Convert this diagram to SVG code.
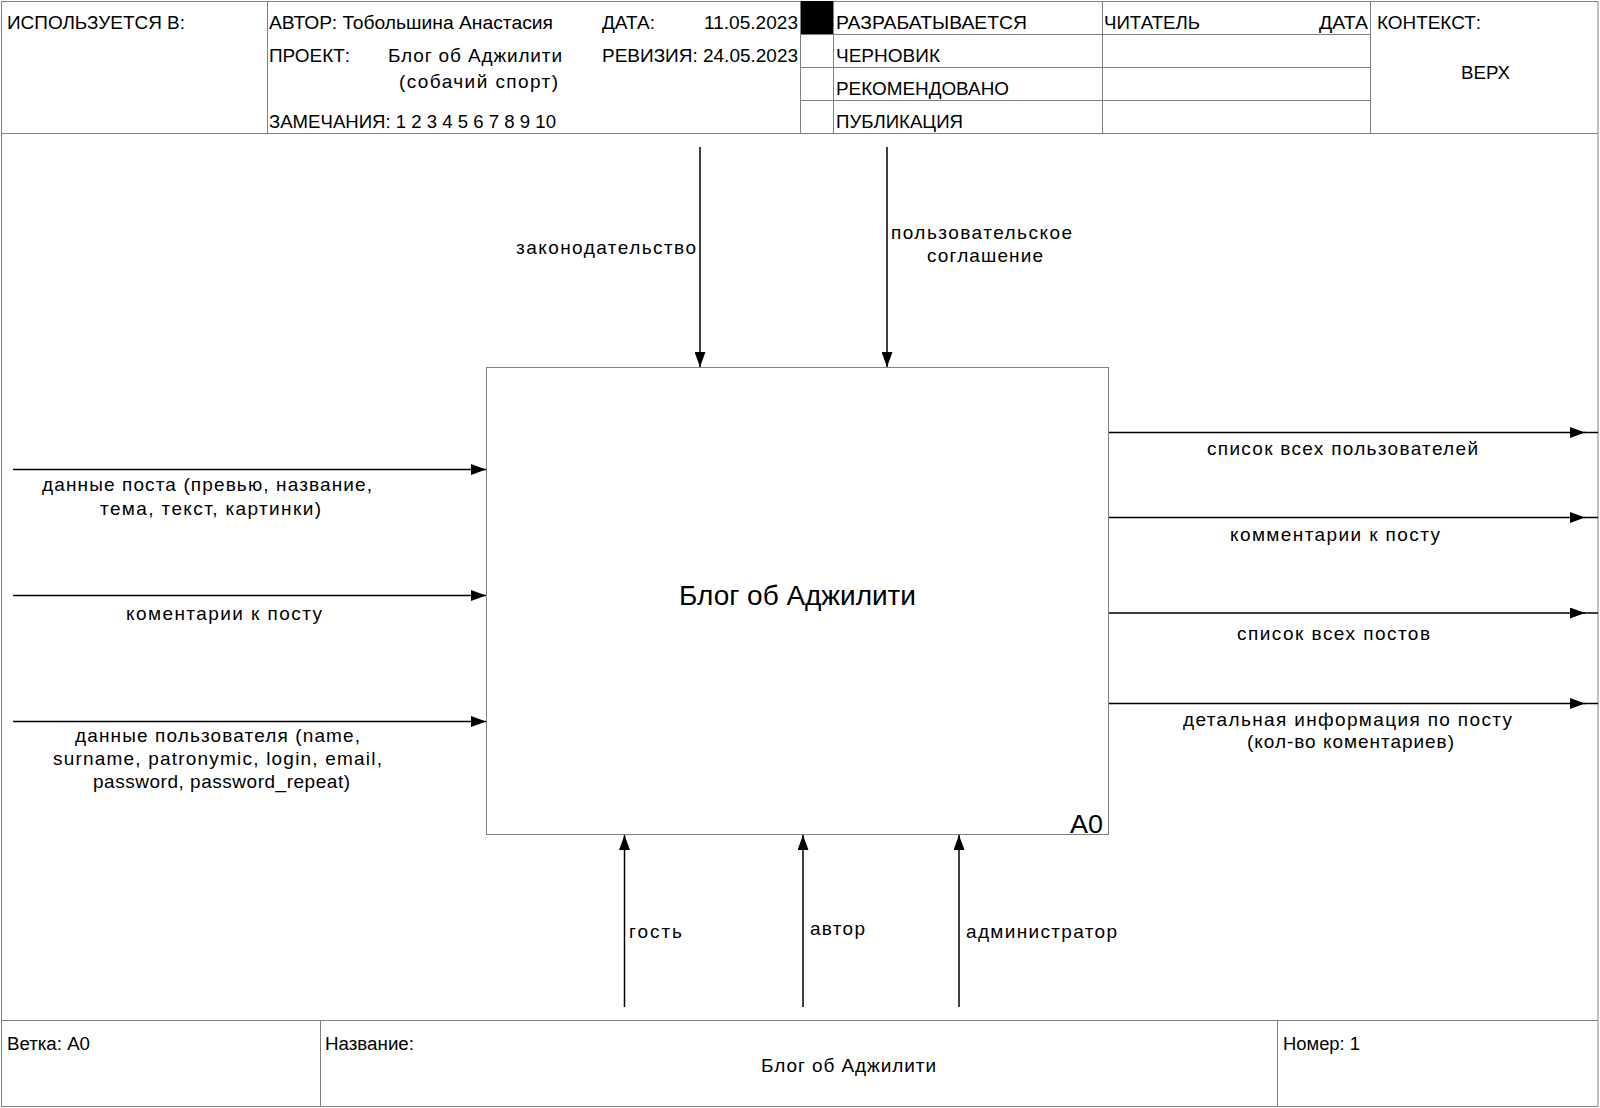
<svg xmlns="http://www.w3.org/2000/svg" width="1600" height="1108" viewBox="0 0 1600 1108">
<style>
.frame{fill:none;stroke:#808080;stroke-width:1}
.hdr{font-family:"Liberation Sans",Arial,sans-serif;font-size:18px;fill:#000}
.lbl{font-family:"Liberation Sans",Arial,sans-serif;font-size:19px;fill:#000}
.arr{stroke:#000;stroke-width:1.5;fill:none}
.arrm{stroke:#000;stroke-width:1.5;fill:none;marker-end:url(#ah)}
</style>
<defs>
<marker id="ah" markerUnits="userSpaceOnUse" markerWidth="15" markerHeight="11" refX="15" refY="5.5" orient="auto">
<path d="M0,0 L15,5.5 L0,11 Z" fill="#000"/>
</marker>
</defs>
<rect x="0" y="0" width="1600" height="1108" fill="#fff"/>
<g id="frame">
<rect class="frame" x="1.5" y="1.5" width="1596.5" height="1105"/>
<line class="frame" x1="1" y1="133.5" x2="1598" y2="133.5"/>
<line class="frame" x1="267.5" y1="1" x2="267.5" y2="133.5"/>
<line class="frame" x1="800.5" y1="1" x2="800.5" y2="133.5"/>
<line class="frame" x1="833.5" y1="1" x2="833.5" y2="133.5"/>
<line class="frame" x1="1102.5" y1="1" x2="1102.5" y2="133.5"/>
<line class="frame" x1="1370.5" y1="1" x2="1370.5" y2="133.5"/>
<line class="frame" x1="800.5" y1="34.5" x2="1370.5" y2="34.5"/>
<line class="frame" x1="800.5" y1="67.5" x2="1370.5" y2="67.5"/>
<line class="frame" x1="800.5" y1="100.5" x2="1370.5" y2="100.5"/>
<rect x="801" y="1" width="32" height="33" fill="#000"/>
<line class="frame" x1="1" y1="1020.5" x2="1598" y2="1020.5"/>
<line class="frame" x1="320.5" y1="1020.5" x2="320.5" y2="1107"/>
<line class="frame" x1="1277.5" y1="1020.5" x2="1277.5" y2="1107"/>
</g>
<g id="header-text">
<text class="hdr" x="7" y="29" textLength="178" lengthAdjust="spacingAndGlyphs">ИСПОЛЬЗУЕТСЯ В:</text>
<text class="hdr" x="269" y="29" textLength="284" lengthAdjust="spacingAndGlyphs">АВТОР: Тобольшина Анастасия</text>
<text class="hdr" x="602" y="29" textLength="53" lengthAdjust="spacingAndGlyphs">ДАТА:</text>
<text class="hdr" x="704" y="29" textLength="94" lengthAdjust="spacingAndGlyphs">11.05.2023</text>
<text class="hdr" x="269" y="62" textLength="81" lengthAdjust="spacingAndGlyphs">ПРОЕКТ:</text>
<text class="lbl" x="388" y="62" textLength="174">Блог об Аджилити</text>
<text class="lbl" x="399" y="88" textLength="159">(собачий спорт)</text>
<text class="hdr" x="602" y="62" textLength="196" lengthAdjust="spacingAndGlyphs">РЕВИЗИЯ: 24.05.2023</text>
<text class="hdr" x="269" y="128" textLength="287" lengthAdjust="spacingAndGlyphs">ЗАМЕЧАНИЯ: 1 2 3 4 5 6 7 8 9 10</text>
<text class="hdr" x="836" y="29" textLength="191" lengthAdjust="spacingAndGlyphs">РАЗРАБАТЫВАЕТСЯ</text>
<text class="hdr" x="1104" y="29" textLength="96" lengthAdjust="spacingAndGlyphs">ЧИТАТЕЛЬ</text>
<text class="hdr" x="1319" y="29" textLength="49" lengthAdjust="spacingAndGlyphs">ДАТА</text>
<text class="hdr" x="1377" y="29" textLength="104" lengthAdjust="spacingAndGlyphs">КОНТЕКСТ:</text>
<text class="hdr" x="836" y="62" textLength="104" lengthAdjust="spacingAndGlyphs">ЧЕРНОВИК</text>
<text class="hdr" x="836" y="95" textLength="173" lengthAdjust="spacingAndGlyphs">РЕКОМЕНДОВАНО</text>
<text class="hdr" x="836" y="128" textLength="127" lengthAdjust="spacingAndGlyphs">ПУБЛИКАЦИЯ</text>
<text class="hdr" x="1461" y="79" textLength="49" lengthAdjust="spacingAndGlyphs">ВЕРХ</text>
</g>
<g id="A0">
<rect x="486.5" y="367.5" width="622" height="467" fill="#fff" stroke="#808080" stroke-width="1"/>
<text x="679" y="605" font-family="Liberation Sans, Arial, sans-serif" font-size="28" textLength="237">Блог об Аджилити</text>
<text x="1070" y="833" font-family="Liberation Sans, Arial, sans-serif" font-size="26" textLength="33" lengthAdjust="spacingAndGlyphs">A0</text>
</g>
<g id="connectors">
<line class="arrm" x1="700" y1="147" x2="700" y2="367"/>
<line class="arrm" x1="887" y1="147" x2="887" y2="367"/>
<line class="arrm" x1="13" y1="469.5" x2="486" y2="469.5"/>
<line class="arrm" x1="13" y1="595.5" x2="486" y2="595.5"/>
<line class="arrm" x1="13" y1="721.5" x2="486" y2="721.5"/>
<line class="arrm" x1="1109" y1="432.5" x2="1585" y2="432.5"/>
<line class="arr" x1="1584" y1="432.5" x2="1598" y2="432.5"/>
<line class="arrm" x1="1109" y1="517.5" x2="1585" y2="517.5"/>
<line class="arr" x1="1584" y1="517.5" x2="1598" y2="517.5"/>
<line class="arrm" x1="1109" y1="613" x2="1585" y2="613"/>
<line class="arr" x1="1584" y1="613" x2="1598" y2="613"/>
<line class="arrm" x1="1109" y1="703.5" x2="1585" y2="703.5"/>
<line class="arr" x1="1584" y1="703.5" x2="1598" y2="703.5"/>
<line class="arrm" x1="624.5" y1="1007" x2="624.5" y2="835"/>
<line class="arrm" x1="803" y1="1007" x2="803" y2="835"/>
<line class="arrm" x1="959" y1="1007" x2="959" y2="835"/>
</g>
<g id="labels">
<text class="lbl" x="516" y="254" textLength="180">законодательство</text>
<text class="lbl" x="891" y="239" textLength="181">пользовательское</text>
<text class="lbl" x="927" y="262" textLength="116">соглашение</text>
<text class="lbl" x="42" y="491" textLength="330">данные поста (превью, название,</text>
<text class="lbl" x="100" y="515" textLength="221">тема, текст, картинки)</text>
<text class="lbl" x="126" y="620" textLength="196">коментарии к посту</text>
<text class="lbl" x="75" y="742" textLength="285">данные пользователя (name,</text>
<text class="lbl" x="53" y="765" textLength="329">surname, patronymic, login, email,</text>
<text class="lbl" x="93" y="788" textLength="257">password, password_repeat)</text>
<text class="lbl" x="1207" y="455" textLength="271">список всех пользователей</text>
<text class="lbl" x="1230" y="541" textLength="210">комментарии к посту</text>
<text class="lbl" x="1237" y="640" textLength="193">список всех постов</text>
<text class="lbl" x="1183" y="726" textLength="329">детальная информация по посту</text>
<text class="lbl" x="1247" y="748" textLength="207">(кол-во коментариев)</text>
<text class="lbl" x="629" y="938" textLength="53">гость</text>
<text class="lbl" x="810" y="935" textLength="55">автор</text>
<text class="lbl" x="966" y="938" textLength="151">администратор</text>
</g>
<g id="footer-text">
<text class="hdr" x="7" y="1050" textLength="83" lengthAdjust="spacingAndGlyphs">Ветка: A0</text>
<text class="hdr" x="325" y="1050" textLength="89" lengthAdjust="spacingAndGlyphs">Название:</text>
<text class="hdr" x="1283" y="1050" textLength="77" lengthAdjust="spacingAndGlyphs">Номер: 1</text>
<text class="lbl" x="761" y="1072" textLength="175">Блог об Аджилити</text>
</g>
</svg>
